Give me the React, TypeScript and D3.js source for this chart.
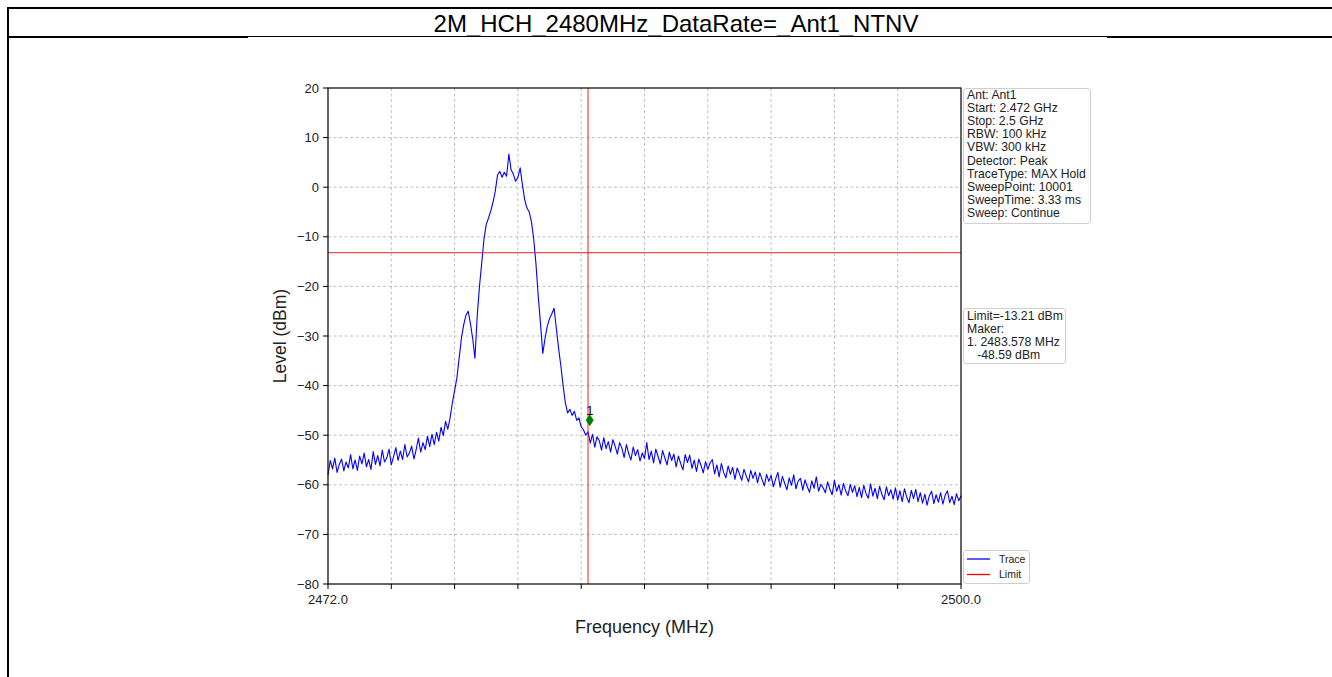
import React from "react";
import * as d3 from "d3";

// Sweep: 2472 MHz .. 2500 MHz, levels read every 0.1 MHz off the plot
const sweepStart = 2472.0;
const sweepStop = 2500.0;
const sweepStep = 0.1;

const levelsLow = [
  -58.0, -55.1, -56.8, -54.6, -57.5, -55.9, -54.8, -57.2, -55.4, -56.6,
  -53.9, -56.8, -55.0, -57.1, -54.2, -55.8, -53.6, -56.4, -54.9, -56.9,
  -53.3, -55.9, -54.1, -56.2, -53.0, -55.4, -54.6, -52.8, -56.0, -54.3,
  -52.5, -55.1, -53.2, -54.9, -51.9, -54.4, -53.6, -52.2, -54.8, -52.9,
  -50.6, -53.4, -51.5, -52.9, -50.2, -52.3, -49.8, -51.9, -49.4, -51.2,
  -48.4, -50.1, -47.2, -48.8, -46.5,
];

const levelsPeak = [
  -43.5, -41.0, -38.5, -34.5, -30.5, -27.8, -25.8, -25.0, -27.5, -30.5,
  -34.5, -26.0, -20.0, -15.3, -10.5, -7.5, -6.2, -4.8, -3.0, -0.8,
  2.5, 3.2, 2.0, 3.0, 2.2, 6.7, 3.5, 2.6, 1.2, 2.0,
  3.9, 0.5, -2.5, -4.2, -5.0, -7.0, -10.5, -15.5, -22.0, -27.5,
  -33.5, -30.5, -28.0, -26.5, -25.5, -24.4, -28.5, -32.5, -36.0, -40.0,
  -43.5, -45.5, -44.8, -46.0, -45.2, -47.0, -46.5, -48.3, -48.9, -50.0,
  -49.3,
];

const levelsHigh = [
  -51.6, -49.8, -52.4, -50.3, -51.1, -53.0, -50.5, -52.7, -51.3, -53.4,
  -50.9, -52.2, -53.8, -51.5,
  -52.6, -54.5, -51.9, -53.7, -55.0, -52.4, -54.1, -52.9, -55.2, -53.6,
  -54.7, -51.5, -54.9, -53.2, -55.6, -52.8, -54.3, -55.8, -53.1, -54.6,
  -56.0, -53.4, -55.1, -53.8, -56.4, -54.2, -55.7, -57.0, -53.9, -55.5,
  -54.0, -56.7, -55.0, -57.3, -54.8, -56.1, -57.6, -55.3, -56.9, -55.6,
  -54.9, -57.8, -56.0, -58.4, -55.7, -57.5, -58.6, -56.2, -57.9, -56.5,
  -58.9, -56.6, -57.8, -59.1, -56.9, -58.2, -59.4, -57.1, -58.7, -57.4,
  -59.6, -57.6, -58.9, -60.2, -57.9, -59.3, -58.1, -60.4, -58.8, -57.5,
  -60.5, -58.3, -59.7, -61.0, -58.6, -60.1, -58.0, -60.8, -59.2, -58.7,
  -61.1, -59.0, -60.4, -61.5, -59.2, -60.7, -58.4, -61.3, -59.9, -60.6,
  -61.6, -59.4, -60.9, -62.0, -59.1, -61.3, -60.0, -62.1, -59.7, -61.2,
  -62.2, -59.9, -61.5, -60.2, -62.4, -60.5, -62.6, -60.1, -61.8, -62.7,
  -59.8, -62.3, -60.7, -62.8, -60.3, -61.9, -63.0, -60.4, -62.2, -61.0,
  -62.9, -60.6, -63.1, -61.2, -63.4, -60.8, -62.5, -63.6, -61.1, -62.8,
  -60.9, -63.4, -61.6, -63.7, -61.9, -64.1, -62.2, -61.3, -63.8, -62.0,
  -63.5, -61.6, -63.9, -62.1, -61.2, -63.6, -62.3, -64.0, -61.8, -63.2,
  -62.2,
];

const levels = [...levelsLow, ...levelsPeak, ...levelsHigh];

const limitDb = -13.21;
const cursorFreq = 2483.5;
const markerFreq = 2483.578;
const markerDb = -48.59;
const markerPlotDb = -47.0; // where the diamond sits in the picture

const yTicks = [20, 10, 0, -10, -20, -30, -40, -50, -60, -70, -80];
const xTicks = d3.range(0, 11).map((i) => sweepStart + i * 2.8);
const xTickLabels = ["2472.0", "", "", "", "", "", "", "", "", "", "2500.0"];

const infoLines = [
  "Ant: Ant1",
  "Start: 2.472 GHz",
  "Stop: 2.5 GHz",
  "RBW: 100 kHz",
  "VBW: 300 kHz",
  "Detector: Peak",
  "TraceType: MAX Hold",
  "SweepPoint: 10001",
  "SweepTime: 3.33 ms",
  "Sweep: Continue",
];
const markerLines = [
  `Limit=${limitDb.toFixed(2)} dBm`,
  "Maker:",
  `1. ${markerFreq.toFixed(3)} MHz`,
  `   ${markerDb.toFixed(2)} dBm`,
];
const legendItems = [
  { label: "Trace", color: "#0000ff" },
  { label: "Limit", color: "#ff0000" },
];

const title = "2M_HCH_2480MHz_DataRate=_Ant1_NTNV";

const W = 1332;
const H = 677;
const plot = { left: 328, right: 961, top: 88, bottom: 584 };
const font = "Liberation Sans, Arial, sans-serif";

export default function App() {
  const x = d3.scaleLinear().domain([sweepStart, sweepStop]).range([plot.left, plot.right]);
  const y = d3.scaleLinear().domain([-80, 20]).range([plot.bottom, plot.top]);

  const trace = levels.map((v, i) => [sweepStart + i * sweepStep, v] as [number, number]);
  const line = d3
    .line<[number, number]>()
    .x((d) => x(d[0]))
    .y((d) => y(d[1]));

  const mx = x(markerFreq);
  const my = y(markerPlotDb);

  return (
    <div style={{ position: "absolute", left: 0, top: 0 }}>
      <svg width={W} height={H} style={{ display: "block", background: "#fff" }}>
        {/* outer table frame */}
        <line x1={7} x2={W} y1={8} y2={8} stroke="#000" strokeWidth={2} />
        <line x1={8} x2={8} y1={7} y2={H} stroke="#000" strokeWidth={2} />
        <line x1={7} x2={248} y1={37} y2={37} stroke="#000" strokeWidth={2} />
        <line x1={1107} x2={W} y1={37} y2={37} stroke="#000" strokeWidth={2} />
        <line x1={248} x2={1107} y1={36.5} y2={36.5} stroke="#000" strokeWidth={1} />
        <text x={676} y={32} textAnchor="middle" fontFamily={font} fontSize={24}>
          {title}
        </text>

        {/* grid */}
        <g stroke="#b0b0b0" strokeWidth={0.8} strokeDasharray="3,2.5">
          {xTicks.slice(1, -1).map((t) => (
            <line key={"gx" + t} x1={x(t)} x2={x(t)} y1={plot.top} y2={plot.bottom} />
          ))}
          {yTicks.slice(1, -1).map((t) => (
            <line key={"gy" + t} x1={plot.left} x2={plot.right} y1={y(t)} y2={y(t)} />
          ))}
        </g>

        {/* trace */}
        <path d={line(trace) || ""} fill="none" stroke="#0000ff" strokeWidth={1.1} strokeLinejoin="round" />

        {/* limit and cursor */}
        <line x1={plot.left} x2={plot.right} y1={y(limitDb)} y2={y(limitDb)} stroke="#e02020" strokeWidth={1} />
        <line x1={x(cursorFreq)} x2={x(cursorFreq)} y1={plot.top} y2={plot.bottom} stroke="#ff0000" strokeOpacity={0.6} strokeWidth={1.5} />

        {/* marker */}
        <path d={`M${mx},${my - 6} L${mx + 4},${my} L${mx},${my + 6} L${mx - 4},${my} Z`} fill="#008000" />
        <text x={mx} y={my - 5} textAnchor="middle" fontFamily={font} fontSize={13} fill="#000">
          1
        </text>

        {/* axes frame and ticks */}
        <rect x={plot.left} y={plot.top} width={plot.right - plot.left} height={plot.bottom - plot.top} fill="none" stroke="#000" strokeWidth={1.2} />
        {yTicks.map((t) => (
          <g key={"ty" + t}>
            <line x1={plot.left - 5} x2={plot.left} y1={y(t)} y2={y(t)} stroke="#000" strokeWidth={1} />
            <text x={plot.left - 9} y={y(t) + 4.5} textAnchor="end" fontFamily={font} fontSize={13} fill="#222">
              {t < 0 ? "\u2212" + Math.abs(t) : String(t)}
            </text>
          </g>
        ))}
        {xTicks.map((t, i) => (
          <g key={"tx" + i}>
            <line x1={x(t)} x2={x(t)} y1={plot.bottom} y2={plot.bottom + 5} stroke="#000" strokeWidth={1} />
            <text x={x(t)} y={plot.bottom + 20} textAnchor="middle" fontFamily={font} fontSize={13} fill="#222">
              {xTickLabels[i]}
            </text>
          </g>
        ))}
        <text x={(plot.left + plot.right) / 2} y={633} textAnchor="middle" fontFamily={font} fontSize={18} fill="#222">
          Frequency (MHz)
        </text>
        <text
          transform={`translate(286,${(plot.top + plot.bottom) / 2}) rotate(-90)`}
          textAnchor="middle"
          fontFamily={font}
          fontSize={17.5}
          fill="#222"
        >
          Level (dBm)
        </text>

        {/* info box */}
        <rect x={963.5} y={88.5} width={127} height={135} rx={2.5} fill="#fff" stroke="#cfcfcf" />
        {infoLines.map((s, i) => (
          <text key={"i" + i} x={967} y={99 + i * 13.1} fontFamily={font} fontSize={12.2} fill="#222">
            {s}
          </text>
        ))}

        {/* marker box */}
        <rect x={963.5} y={308.5} width={102} height={55} rx={2.5} fill="#fff" stroke="#cfcfcf" />
        {markerLines.map((s, i) => (
          <text key={"m" + i} x={967} y={320 + i * 13.1} fontFamily={font} fontSize={12.2} fill="#222" style={{ whiteSpace: "pre" }}>
            {s}
          </text>
        ))}

        {/* legend */}
        <rect x={963.5} y={550.5} width={66} height={33} rx={2.5} fill="#fff" stroke="#cfcfcf" />
        {legendItems.map((d, i) => (
          <g key={d.label}>
            <line x1={967} x2={990} y1={559 + i * 15.5} y2={559 + i * 15.5} stroke={d.color} strokeWidth={1.3} />
            <text x={999} y={562.5 + i * 15.5} fontFamily={font} fontSize={10.5} fill="#222">
              {d.label}
            </text>
          </g>
        ))}
      </svg>
    </div>
  );
}
